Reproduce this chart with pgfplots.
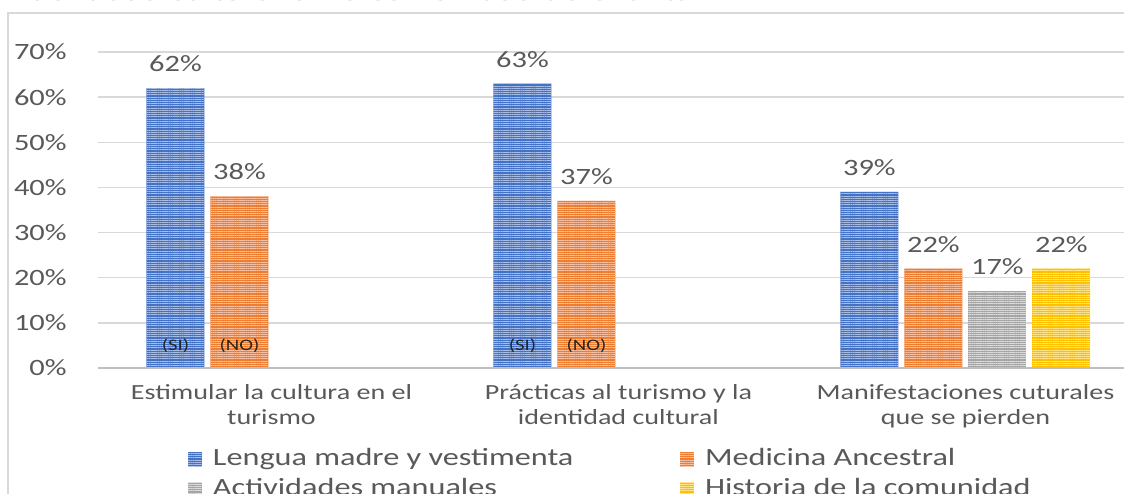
\documentclass[border=0pt]{standalone}
\usepackage{pgfplots}
\pgfplotsset{compat=1.18}
\usetikzlibrary{patterns.meta}
\usepackage{fontspec}
\setmainfont{Carlito}[FakeStretch=1.3]
\definecolor{cblue}{HTML}{4472C4}
\definecolor{cbluel}{HTML}{A9BEE6}
\definecolor{corange}{HTML}{ED7D31}
\definecolor{corangel}{HTML}{F8C0A0}
\definecolor{cgray}{HTML}{A5A5A5}
\definecolor{cgrayl}{HTML}{DCDCDC}
\definecolor{cyellow}{HTML}{FFC000}
\definecolor{cyellowl}{HTML}{FFE48A}
\definecolor{textgray}{HTML}{595959}
\definecolor{gridgray}{HTML}{D9D9D9}
\definecolor{axisgray}{HTML}{BFBFBF}
\begin{document}
\begin{tikzpicture}
\useasboundingbox (0,0) rectangle (562pt,-246.5pt);
\clip (0,0) rectangle (562pt,-246.5pt);
\draw[gridgray, line width=0.9pt] (4pt,-250pt) -- (4pt,-6.5pt) -- (570pt,-6.5pt);
\node[anchor=base west, inner sep=0pt, font=\fontsize{14}{16}\selectfont, text=textgray] at (10pt,-0.2pt) {Identidad cultural en la comunidad de Chanta};
\begin{axis}[
  at={(49pt,-184pt)}, anchor=south west,
  scale only axis, width=513pt, height=158pt,
  xmin=-0.5, xmax=2.457, ymin=0, ymax=70,
  ybar=3pt, bar width=29pt,
  axis line style={draw=none}, major tick length=0pt,
  ytick={0,10,...,70},
  yticklabel={\pgfmathprintnumber{\tick}\%},
  /pgf/number format/assume math mode=true,
  yticklabel style={font=\fontsize{11.7}{13}\selectfont, text=textgray, inner sep=0pt, xshift=-15.5pt},
  ymajorgrids, grid style={draw=gridgray, line width=0.7pt},
  xtick={0,1,2},
  xticklabels={Estimular la cultura en el\\turismo, Prácticas al turismo y la\\identidad cultural, Manifestaciones cuturales\\que se pierden},
  xticklabel style={align=center, font=\fontsize{10.8}{12.5}\selectfont, text=textgray, inner sep=0pt, yshift=-8pt},
  nodes near coords={\pgfmathprintnumber\pgfplotspointmeta\%},
  nodes near coords style={font=\fontsize{11.7}{13}\selectfont, text=textgray, anchor=south, inner sep=0pt, yshift=8pt},
  clip=false,
  legend columns=2,
  legend image code/.code={\fill[#1] (0pt,-2pt) rectangle (7pt,5pt);},
  legend style={at={(axis description cs:0,0)}, anchor=north west, xshift=45pt, yshift=-39.5pt,
    draw=none, fill=none, inner sep=0pt, outer sep=0pt, row sep=0pt,
    font=\fontsize{12.4}{14}\selectfont, text=textgray,
    nodes={inner sep=0pt, text height=9.2pt, text depth=6pt},
    /tikz/every odd column/.append style={column sep=5.5pt}},
  legend cell align=left,
]
\addplot[fill=cblue, draw=none, postaction={pattern={Lines[angle=0,distance=1.1pt,line width=0.45pt]}, pattern color=cbluel}]
  coordinates {(0,62) (1,63) (2,39)};
\addlegendentry{\makebox[233.5pt][l]{Lengua madre y vestimenta}}
\addplot[fill=corange, draw=none, postaction={pattern={Lines[angle=0,distance=1.1pt,line width=0.45pt]}, pattern color=corangel}]
  coordinates {(0,38) (1,37) (2,22)};
\addlegendentry{Medicina Ancestral}
\addplot[fill=cgray, draw=none, postaction={pattern={Lines[angle=0,distance=1.1pt,line width=0.45pt]}, pattern color=cgrayl}]
  coordinates {(2,17)};
\addlegendentry{\makebox[233.5pt][l]{Actividades manuales}}
\addplot[fill=cyellow, draw=none, postaction={pattern={Lines[angle=0,distance=1.1pt,line width=0.45pt]}, pattern color=cyellowl}]
  coordinates {(2,22)};
\addlegendentry{Historia de la comunidad}
\draw[axisgray, line width=1pt] (axis cs:-0.5,0) -- (axis cs:2.457,0);
\node[xshift=-48pt, font=\fontsize{8}{9}\selectfont, text=black!85] at (axis cs:0,4.9) {(SI)};
\node[xshift=-16pt, font=\fontsize{8}{9}\selectfont, text=black!85] at (axis cs:0,4.9) {(NO)};
\node[xshift=-48pt, font=\fontsize{8}{9}\selectfont, text=black!85] at (axis cs:1,4.9) {(SI)};
\node[xshift=-16pt, font=\fontsize{8}{9}\selectfont, text=black!85] at (axis cs:1,4.9) {(NO)};
\end{axis}
\end{tikzpicture}
\end{document}
